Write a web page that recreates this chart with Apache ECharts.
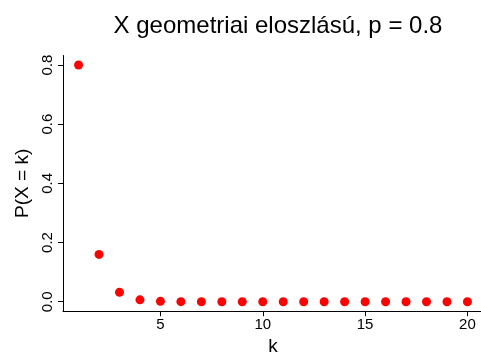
<!DOCTYPE html>
<html>
<head>
<meta charset="utf-8">
<script src="https://cdn.jsdelivr.net/npm/echarts@6/dist/echarts.min.js"></script>
<style>
  html, body { margin: 0; padding: 0; background: #fff; }
  #main { width: 481px; height: 356px; }
</style>
</head>
<body>
<div id="main"></div>
<script>
// k values and P(X = k) for the geometric distribution, p = 0.8
const kValues = [1, 2, 3, 4, 5, 6, 7, 8, 9, 10, 11, 12, 13, 14, 15, 16, 17, 18, 19, 20];
const probs = [0.8, 0.16, 0.032, 0.0064, 0.00128, 0.000256, 0.0000512, 0.00001024,
  0.000002048, 0.0000004096, 0.00000008192, 0.000000016384, 0.0000000032768,
  0.00000000065536, 0.000000000131072, 0.0000000000262144, 0.00000000000524288,
  0.000000000001048576, 0.0000000000002097152, 0.00000000000004194304];
const xTicks = [5, 10, 15, 20];
const yTicks = [0, 0.2, 0.4, 0.6, 0.8];

const font = 'Liberation Sans, Arial, sans-serif';
let myChart = echarts.init(document.getElementById('main'));
myChart.setOption({
  animation: false,
  title: {
    text: 'X geometriai eloszlású, p = 0.8',
    left: 273, top: 9, textAlign: 'center',
    textStyle: { fontFamily: font, fontSize: 24, fontWeight: 'normal', color: '#000' }
  },
  grid: { left: 63, right: -2, top: 55.5, bottom: 44.8, outerBoundsMode: 'none', containLabel: false },
  xAxis: {
    type: 'value', min: 0.24, max: 20.76,
    name: 'k', nameLocation: 'middle', nameGap: 24,
    nameTextStyle: { fontFamily: font, fontSize: 19, color: '#000' },
    axisLine: { onZero: false, lineStyle: { color: '#000', width: 1 } },
    axisTick: { customValues: xTicks, length: 5, lineStyle: { color: '#000' } },
    axisLabel: { customValues: xTicks, fontFamily: font, fontSize: 15, color: '#000', margin: 6 },
    splitLine: { show: false }
  },
  yAxis: {
    type: 'value', min: -0.032, max: 0.832,
    name: 'P(X = k)', nameLocation: 'middle', nameGap: 28, nameRotate: 90,
    nameTextStyle: { fontFamily: font, fontSize: 19, color: '#000' },
    axisLine: { show: true, onZero: false, lineStyle: { color: '#000', width: 1 } },
    axisTick: { show: true, customValues: yTicks, length: 5, lineStyle: { color: '#000' } },
    axisLabel: {
      customValues: yTicks, rotate: 90, fontFamily: font, fontSize: 15, color: '#000', margin: 8,
      formatter: v => v.toFixed(1)
    },
    splitLine: { show: false }
  },
  series: [{
    type: 'scatter',
    data: kValues.map((k, i) => [k, probs[i]]),
    symbol: 'circle', symbolSize: 9,
    itemStyle: { color: '#ff0000', opacity: 1 }
  }]
});
</script>
</body>
</html>
